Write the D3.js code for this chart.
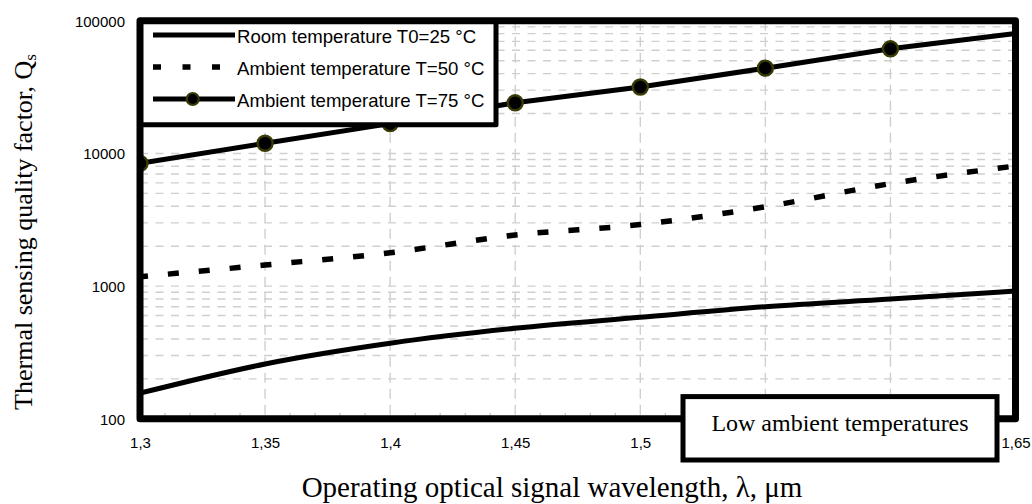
<!DOCTYPE html>
<html>
<head>
<meta charset="utf-8">
<script src="https://cdn.jsdelivr.net/npm/d3@7"></script>
<style>
  html, body { margin: 0; padding: 0; background: #fff; }
  svg { display: block; }
</style>
</head>
<body>
<svg id="chart" width="1032" height="504"></svg>
<script>
// ---- Data ----
const wavelengths = [1.30, 1.35, 1.40, 1.45, 1.50, 1.55, 1.60, 1.65];
const room25 = [156, 259, 371, 481, 582, 700, 800, 919];
const ambient50 = [1178, 1443, 1786, 2428, 2913, 3963, 5929, 8050];
const ambient75 = [8430, 11940, 16790, 24100, 31700, 43950, 61500, 80200];
const seriesNames = ["Room temperature T0=25 °C", "Ambient temperature T=50 °C", "Ambient temperature T=75 °C"];
const xGridValues = [1.35, 1.40, 1.45, 1.50, 1.55, 1.60];
// tick labels 1,55 and 1,6 are hidden behind the annotation box in the reference
const xTickValues = [1.30, 1.35, 1.40, 1.45, 1.50, 1.65];
const xTickLabels = ["1,3", "1,35", "1,4", "1,45", "1,5", "1,65"];
const yTickValues = [100, 1000, 10000, 100000];
const yTickLabels = ["100", "1000", "10000", "100000"];
const xTitle = "Operating optical signal wavelength, λ, μm";
const yTitle = "Thermal sensing quality factor, Q";
const yTitleSub = "s";
const annotation = "Low ambient temperatures";

// ---- Layout ----
const L = 140, R = 1015.5, T = 20.8, B = 418.8;
const svg = d3.select("#chart");
const x = d3.scaleLinear().domain([1.3, 1.65]).range([L, R]);
const y = d3.scaleLog().domain([100, 100000]).range([B, T]);
const sans = "'Liberation Sans', Arial, sans-serif";
const serif = "'Liberation Serif', 'Times New Roman', serif";

svg.append("defs").append("clipPath").attr("id", "plotclip")
  .append("rect").attr("x", L).attr("y", T).attr("width", R - L).attr("height", B - T);

// ---- Gridlines ----
const grid = svg.append("g");
const minorY = [];
for (let d = 100; d < 100000; d *= 10) for (let k = 1; k <= 9; k++) minorY.push(d * k);
grid.selectAll("line.hy").data(minorY.filter(v => v > 100 && v < 100000)).join("line")
  .attr("x1", L).attr("x2", R).attr("y1", d => y(d)).attr("y2", d => y(d))
  .attr("stroke", "#cfcfcf").attr("stroke-width", 1.4).attr("stroke-dasharray", "8,7.5");
grid.selectAll("line.vx").data(xGridValues).join("line")
  .attr("x1", d => x(d)).attr("x2", d => x(d)).attr("y1", T).attr("y2", B)
  .attr("stroke", "#cfcfcf").attr("stroke-width", 1.4).attr("stroke-dasharray", "10,6");
// minor x ticks
const minorX = d3.range(0, 36).map(i => 1.3 + i * 0.01).filter((d, i) => i % 5 !== 0);
grid.selectAll("line.mx").data(minorX).join("line")
  .attr("x1", d => x(d)).attr("x2", d => x(d)).attr("y1", B - 6).attr("y2", B)
  .attr("stroke", "#bbbbbb").attr("stroke-width", 1);

// ---- Series ----
const plot = svg.append("g").attr("clip-path", "url(#plotclip)");
const lineSmooth = d3.line().x((d, i) => x(wavelengths[i])).y(d => y(d)).curve(d3.curveMonotoneX);
const lineLin = d3.line().x((d, i) => x(wavelengths[i])).y(d => y(d));

plot.append("path").datum(room25).attr("d", lineSmooth)
  .attr("fill", "none").attr("stroke", "#000").attr("stroke-width", 5);
plot.append("path").datum(ambient50).attr("d", lineSmooth)
  .attr("fill", "none").attr("stroke", "#000").attr("stroke-width", 5.5)
  .attr("stroke-dasharray", "11,20").attr("stroke-dashoffset", 3);
plot.append("path").datum(ambient75).attr("d", lineLin)
  .attr("fill", "none").attr("stroke", "#000").attr("stroke-width", 5);
plot.selectAll("circle.m").data(ambient75.slice(0, -1)).join("circle")
  .attr("cx", (d, i) => x(wavelengths[i])).attr("cy", d => y(d)).attr("r", 7.5)
  .attr("fill", "#000").attr("stroke", "#3a3a05").attr("stroke-width", 2.4);

// ---- Legend ----
const lg = svg.append("g");
lg.append("rect").attr("x", L).attr("y", T).attr("width", 496 - L).attr("height", 124.7 - T)
  .attr("fill", "#fff").attr("stroke", "#000").attr("stroke-width", 5).attr("stroke-linejoin", "round");

// ---- Frame ----
svg.append("rect").attr("x", L).attr("y", T).attr("width", R - L).attr("height", B - T)
  .attr("fill", "none").attr("stroke", "#000").attr("stroke-width", 7).attr("stroke-linejoin", "round");

const rows = [35, 67, 99];
lg.append("line").attr("x1", 153).attr("x2", 235).attr("y1", rows[0]).attr("y2", rows[0])
  .attr("stroke", "#000").attr("stroke-width", 5);
lg.append("line").attr("x1", 153).attr("x2", 235).attr("y1", rows[1]).attr("y2", rows[1])
  .attr("stroke", "#000").attr("stroke-width", 5.5).attr("stroke-dasharray", "8,21.5");
lg.append("line").attr("x1", 153).attr("x2", 235).attr("y1", rows[2]).attr("y2", rows[2])
  .attr("stroke", "#000").attr("stroke-width", 5);
lg.append("circle").attr("cx", 192.7).attr("cy", rows[2]).attr("r", 6)
  .attr("fill", "#000").attr("stroke", "#3a3a05").attr("stroke-width", 2.2);
lg.selectAll("text").data(seriesNames).join("text")
  .attr("x", 237).attr("y", (d, i) => rows[i] + 8)
  .attr("font-family", sans).attr("font-size", 18.6).attr("fill", "#000")
  .text(d => d);

// ---- Axes labels ----
const yAxis = d3.axisLeft(y).tickValues(yTickValues).tickSize(0).tickPadding(0)
  .tickFormat((d, i) => yTickLabels[i]);
const gy = svg.append("g").attr("transform", "translate(125,0)").call(yAxis);
gy.select(".domain").remove();
gy.selectAll("text").attr("font-family", sans).attr("font-size", 15).attr("fill", "#000")
  .attr("dy", "0.35em");

const xAxis = d3.axisBottom(x).tickValues(xTickValues).tickSize(0).tickPadding(0)
  .tickFormat((d, i) => xTickLabels[i]);
const gx = svg.append("g").attr("transform", "translate(0,437)").call(xAxis);
gx.select(".domain").remove();
gx.selectAll("text").attr("font-family", sans).attr("font-size", 15).attr("fill", "#000")
  .attr("dy", "0.71em");

// ---- Annotation box ----
svg.append("rect").attr("x", 683).attr("y", 396.6).attr("width", 997 - 683).attr("height", 460 - 396.6)
  .attr("fill", "#fff").attr("stroke", "#000").attr("stroke-width", 5);
svg.append("text").attr("x", 840).attr("y", 431.4).attr("text-anchor", "middle")
  .attr("font-family", serif).attr("font-size", 24).attr("fill", "#000").text(annotation);

// ---- Titles ----
svg.append("text").attr("x", 552).attr("y", 497).attr("text-anchor", "middle")
  .attr("font-family", serif).attr("font-size", 29).attr("fill", "#000").text(xTitle);
const yt = svg.append("text").attr("transform", "translate(32,232) rotate(-90)")
  .attr("text-anchor", "middle").attr("font-family", serif).attr("font-size", 26).attr("fill", "#000");
yt.append("tspan").text(yTitle);
yt.append("tspan").attr("font-size", 17).attr("dy", 4).text(yTitleSub);
</script>
</body>
</html>
